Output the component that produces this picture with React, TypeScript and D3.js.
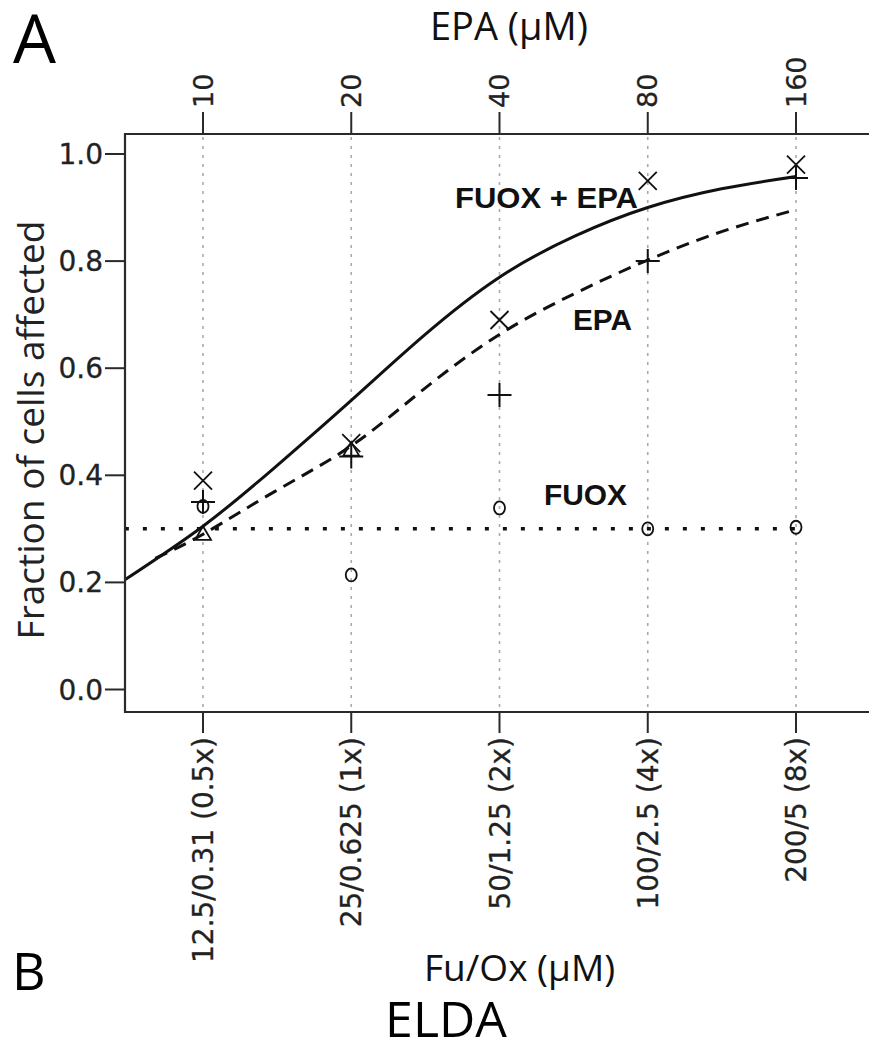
import React from "react";
import * as d3 from "d3";

// EPA doses on the top axis and Fu/Ox doses on the bottom axis share the same positions
const epaDoses = [10, 20, 40, 80, 160];
const fuoxLabels = ["12.5/0.31 (0.5x)", "25/0.625 (1x)", "50/1.25 (2x)", "100/2.5 (4x)", "200/5 (8x)"];
const yTicks = [0, 0.2, 0.4, 0.6, 0.8, 1.0];

// observed points
const comboObs = [0.39, 0.46, 0.69, 0.95, 0.98];
const epaObs = [0.35, 0.435, 0.55, 0.8, 0.955];
const fuoxObs = [0.342, 0.214, 0.339, 0.3, 0.303];
const triDoses = [10, 20];
const triObs = [0.29, 0.447];

// fitted curves
const comboFitDoses = [6.94, 10, 14, 20, 28, 40, 57, 80, 113, 160];
const comboFit = [0.205, 0.305, 0.415, 0.54, 0.66, 0.77, 0.847, 0.9, 0.935, 0.958];
const epaFitDoses = [8, 10, 14, 20, 28, 40, 57, 80, 113, 160];
const epaFit = [0.245, 0.29, 0.37, 0.455, 0.56, 0.663, 0.74, 0.802, 0.855, 0.896];
const fuoxFitDoses = [6.94, 160];
const fuoxFit = [0.3, 0.3];

const W = 869;
const H = 1042;
const left = 125;
const top = 134;
const bottom = 712;

const App = () => {
  const x = d3.scaleLog().base(2).domain([10, 160]).range([203, 796]);
  const y = d3.scaleLinear().domain([0, 1]).range([689.5, 154]);

  const line = d3
    .line<[number, number]>()
    .x((d) => x(d[0]))
    .y((d) => y(d[1]))
    .curve(d3.curveNatural);

  const zip = (a: number[], b: number[]) => a.map((v, i) => [v, b[i]] as [number, number]);

  const ink = "#111";
  const axisInk = "#2a2a2a";
  const tickFont = "'DejaVu Sans', Verdana, sans-serif";
  const titleFont = "'Open Sans', 'Noto Sans', sans-serif";
  const boldFont = "'Liberation Sans', Arial, sans-serif";

  return (
    <svg width={W} height={H} style={{ position: "absolute", left: 0, top: 0, background: "#fff" }}>
      <rect width={W} height={H} fill="#fff" />

      {/* vertical dotted grid */}
      {epaDoses.map((d) => (
        <line key={"g" + d} x1={x(d)} x2={x(d)} y1={top + 3} y2={bottom - 2}
          stroke="#aaa" strokeWidth={1.6} strokeDasharray="3,6" />
      ))}

      {/* fitted curves */}
      <path d={line(zip(fuoxFitDoses, fuoxFit)) || ""} fill="none" stroke={ink}
        strokeWidth={3.5} strokeDasharray="4,14" />
      <path d={line(zip(epaFitDoses, epaFit)) || ""} fill="none" stroke={ink}
        strokeWidth={3} strokeDasharray="13,8" />
      <path d={line(zip(comboFitDoses, comboFit)) || ""} fill="none" stroke={ink} strokeWidth={3} />

      {/* markers: x = combination */}
      {epaDoses.map((d, i) => {
        const cx = x(d), cy = y(comboObs[i]), r = 9;
        return (
          <path key={"x" + d} d={`M${cx - r},${cy - r}L${cx + r},${cy + r}M${cx - r},${cy + r}L${cx + r},${cy - r}`}
            stroke={ink} strokeWidth={1.8} fill="none" />
        );
      })}
      {/* + = EPA */}
      {epaDoses.map((d, i) => {
        const cx = x(d), cy = y(epaObs[i]), r = 12;
        return (
          <path key={"p" + d} d={`M${cx - r},${cy}L${cx + r},${cy}M${cx},${cy - r}L${cx},${cy + r}`}
            stroke={ink} strokeWidth={2} fill="none" />
        );
      })}
      {/* o = FUOX */}
      {epaDoses.map((d, i) => (
        <ellipse key={"o" + d} cx={x(d)} cy={y(fuoxObs[i])} rx={5.5} ry={6.5}
          stroke={ink} strokeWidth={1.8} fill="none" />
      ))}
      {/* triangles */}
      {triDoses.map((d, i) => {
        const cx = x(d), cy = y(triObs[i]), r = 8;
        return (
          <path key={"t" + d} d={`M${cx},${cy - r}L${cx + r},${cy + r * 0.7}L${cx - r},${cy + r * 0.7}Z`}
            stroke={ink} strokeWidth={1.8} fill="none" />
        );
      })}

      {/* curve labels */}
      <text x={455} y={208} fontFamily={boldFont} fontWeight="bold" fontSize={30} fill={ink}
        textLength={183} lengthAdjust="spacingAndGlyphs">FUOX + EPA</text>
      <text x={573} y={330} fontFamily={boldFont} fontWeight="bold" fontSize={30} fill={ink}
        textLength={59} lengthAdjust="spacingAndGlyphs">EPA</text>
      <text x={544} y={505} fontFamily={boldFont} fontWeight="bold" fontSize={30} fill={ink}
        textLength={83} lengthAdjust="spacingAndGlyphs">FUOX</text>

      {/* frame (open to the right, cropped) */}
      <path d={`M${W + 10},${top}H${left}V${bottom}H${W + 10}`} fill="none" stroke={axisInk} strokeWidth={2.2} />

      {/* left axis */}
      {yTicks.map((t) => (
        <g key={"y" + t}>
          <line x1={left - 20} x2={left} y1={y(t)} y2={y(t)} stroke={axisInk} strokeWidth={2} />
          <text x={left - 22} y={y(t)} dy="0.36em" textAnchor="end" fontFamily={tickFont}
            fontSize={28} fill="#222" stroke="#222" strokeWidth={0.3}>{t.toFixed(1)}</text>
        </g>
      ))}

      {/* top axis */}
      {epaDoses.map((d) => (
        <g key={"t" + d}>
          <line x1={x(d)} x2={x(d)} y1={top - 22} y2={top} stroke={axisInk} strokeWidth={2} />
          <text transform={`translate(${x(d)},${top - 26}) rotate(-90)`} dy="0.36em"
            fontFamily={tickFont} fontSize={27} fill="#222" stroke="#222" strokeWidth={0.3}>{d}</text>
        </g>
      ))}

      {/* bottom axis */}
      {epaDoses.map((d, i) => (
        <g key={"b" + d}>
          <line x1={x(d)} x2={x(d)} y1={bottom} y2={bottom + 21} stroke={axisInk} strokeWidth={2} />
          <text transform={`translate(${x(d)},${bottom + 25}) rotate(-90)`} dy="0.36em" textAnchor="end"
            fontFamily={tickFont} fontSize={28} fill="#222" stroke="#222" strokeWidth={0.3}>{fuoxLabels[i]}</text>
        </g>
      ))}

      {/* axis titles */}
      <text x={430} y={40} fontFamily={titleFont} fontSize={38} fill="#111">EPA (μM)</text>
      <text transform="translate(44,430) rotate(-90)" textAnchor="middle" fontFamily={titleFont}
        fontSize={37} fill="#222">Fraction of cells affected</text>
      <text x={424} y={981} fontFamily={titleFont} fontSize={37} fill="#111">Fu/Ox (μM)</text>

      {/* panel letters */}
      <text x={13} y={63} fontFamily={titleFont} fontSize={68} fill="#000">A</text>
      <text x={12} y={990} fontFamily={titleFont} fontSize={52} fill="#000">B</text>
      <text x={446} y={1037} textAnchor="middle" fontFamily={titleFont} fontSize={50} fill="#000">ELDA</text>
    </svg>
  );
};

export default App;
